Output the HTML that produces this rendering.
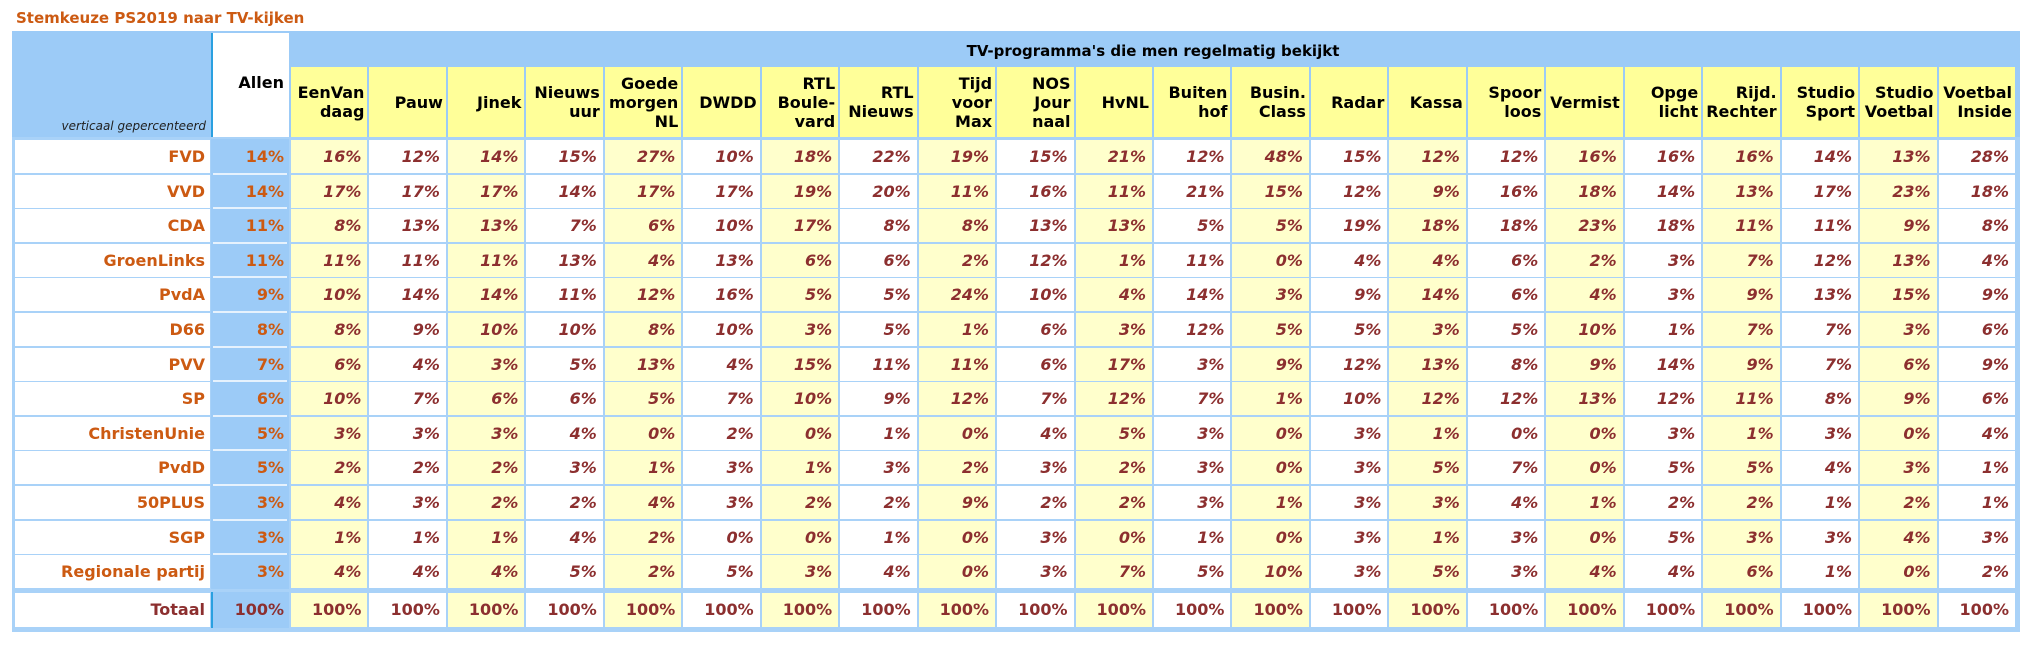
<!DOCTYPE html>
<html><head><meta charset="utf-8">
<style>
body{margin:0;width:2040px;height:656px;background:#fff;overflow:hidden;font-family:"DejaVu Sans","Liberation Sans",sans-serif;}
#wrap{position:relative;width:2040px;height:656px;}
.a{position:absolute;box-sizing:border-box;}
.t{font-weight:bold;font-size:15px;}
</style></head>
<body>
<div id="wrap">
<div class="a t" style="left:16px;top:9px;color:#cc5a12;">Stemkeuze PS2019 naar TV-kijken</div>
</div>
<script>
const programs=["EenVan<br>daag","Pauw","Jinek","Nieuws<br>uur","Goede<br>morgen<br>NL","DWDD","RTL<br>Boule-<br>vard","RTL<br>Nieuws","Tijd<br>voor<br>Max","NOS<br>Jour<br>naal","HvNL","Buiten<br>hof","Busin.<br>Class","Radar","Kassa","Spoor<br>loos","Vermist","Opge<br>licht","Rijd.<br>Rechter","Studio<br>Sport","Studio<br>Voetbal","Voetbal<br>Inside"];
const parties=["FVD","VVD","CDA","GroenLinks","PvdA","D66","PVV","SP","ChristenUnie","PvdD","50PLUS","SGP","Regionale partij"];
const allen=[14,14,11,11,9,8,7,6,5,5,3,3,3];
const values=[
[16,12,14,15,27,10,18,22,19,15,21,12,48,15,12,12,16,16,16,14,13,28],
[17,17,17,14,17,17,19,20,11,16,11,21,15,12,9,16,18,14,13,17,23,18],
[8,13,13,7,6,10,17,8,8,13,13,5,5,19,18,18,23,18,11,11,9,8],
[11,11,11,13,4,13,6,6,2,12,1,11,0,4,4,6,2,3,7,12,13,4],
[10,14,14,11,12,16,5,5,24,10,4,14,3,9,14,6,4,3,9,13,15,9],
[8,9,10,10,8,10,3,5,1,6,3,12,5,5,3,5,10,1,7,7,3,6],
[6,4,3,5,13,4,15,11,11,6,17,3,9,12,13,8,9,14,9,7,6,9],
[10,7,6,6,5,7,10,9,12,7,12,7,1,10,12,12,13,12,11,8,9,6],
[3,3,3,4,0,2,0,1,0,4,5,3,0,3,1,0,0,3,1,3,0,4],
[2,2,2,3,1,3,1,3,2,3,2,3,0,3,5,7,0,5,5,4,3,1],
[4,3,2,2,4,3,2,2,9,2,2,3,1,3,3,4,1,2,2,1,2,1],
[1,1,1,4,2,0,0,1,0,3,0,1,0,3,1,3,0,5,3,3,4,3],
[4,4,4,5,2,5,3,4,0,3,7,5,10,3,5,3,4,4,6,1,0,2]];
const totals=[100,100,100,100,100,100,100,100,100,100,100,100,100,100,100,100,100,100,100,100,100,100];
const W=document.getElementById('wrap');
const L=12,LW=199,AX=211,AW=78,PX=290,PW=(2016-290)/22;
const TOP=31,YH=67,BODY=140,RH=34.6;
function box(x,y,w,h,css){const d=document.createElement('div');d.className='a';d.style.cssText=`left:${x}px;top:${y}px;width:${w}px;height:${h}px;`+css;W.appendChild(d);return d;}
let f=box(L,TOP,2020-L,632-TOP,'background:#a9d2f8;');


let hb=box(L,TOP,2020-L,137-TOP,'background:#9ccbf7;');


let lh=box(L+3,TOP+3,LW-4,137-TOP-3,'background:#9ccbf7;font-style:italic;font-size:12px;text-align:right;padding:0 4px 4px 0;display:flex;align-items:flex-end;justify-content:flex-end;color:#222;');
lh.textContent='verticaal gepercenteerd';


let ah=box(AX,TOP+2,AW,137-TOP-2,'background:#fff;border-left:2px solid #2aa0e0;font-weight:bold;font-size:16px;text-align:right;padding:40px 5px 0 0;');
ah.textContent='Allen';


let gh=box(PX,TOP+3,2016-PX,YH-TOP-3,'font-weight:bold;font-size:15px;text-align:center;padding-top:8px;');
gh.textContent="TV-programma's die men regelmatig bekijkt";


programs.forEach((p,i)=>{
 let c=box(PX+i*PW+1,YH,PW-2,137-YH,'background:#ffff99;font-weight:bold;font-size:16px;text-align:right;padding-right:3px;display:flex;align-items:center;justify-content:flex-end;line-height:19px;');
 c.innerHTML='<span>'+p+'</span>';
 
 
});
function row(label,allv,vals,y,h,isTot){
 let lc=box(L+3,y,LW-4,h,`background:#fff;font-weight:bold;font-size:16px;text-align:right;padding-right:5px;line-height:${h}px;color:${isTot?'#8c2f2f':'#cc5a12'};`);
 lc.textContent=label;
 
 
 let ac=box(AX,y-1,AW,h+2,`background:#9ccbf7;${isTot?'border-left:2px solid #2aa0e0;':''}font-weight:bold;font-size:16px;text-align:right;padding-right:5px;line-height:${h+2}px;color:${isTot?'#8c2f2f':'#cc5a12'};`);
 ac.textContent=allv+'%';
 
 
 vals.forEach((v,i)=>{
  let c=box(PX+i*PW+1,y,PW-2,h,`background:${i%2==0?'#ffffcc':'#fff'};font-weight:bold;${isTot?'':'font-style:italic;'}font-size:16px;text-align:right;padding-right:6px;line-height:${h}px;color:#8c2f2f;`);
  c.textContent=v+'%';
  
  
 });
}
parties.forEach((p,r)=>{const y=BODY+r*RH;row(p,allen[r],values[r],Math.round(y),Math.round(RH-2),false);
 if(r>0){let s=box(AX+2,Math.round(y)-2,AW-4,2,'background:#e6f2fd;');}
});
row('Totaal',100,totals,593,34,true);
</script>
</body></html>
